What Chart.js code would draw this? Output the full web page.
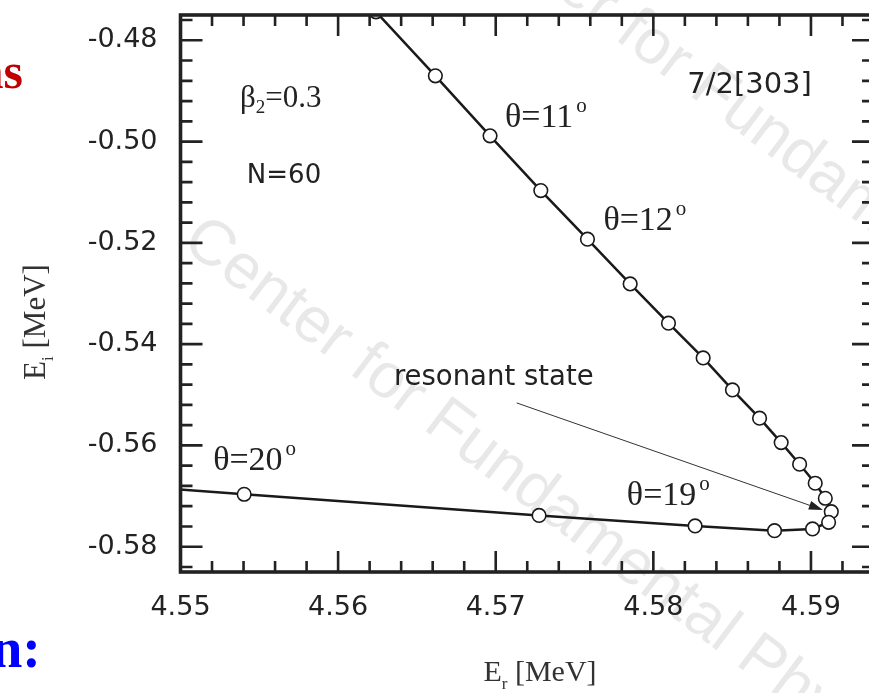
<!DOCTYPE html>
<html>
<head>
<meta charset="utf-8">
<script src="https://cdn.jsdelivr.net/npm/chart.js@4.4.1/dist/chart.umd.min.js"></script>
<style>
  html, body { margin: 0; padding: 0; background: #fff; overflow: hidden; }
  /* the box's right edge runs a few pixels past the visible page */
  #wrap { position: relative; width: 885px; height: 693px; }
</style>
</head>
<body>
<div id="wrap"><canvas id="trajChart"></canvas></div>
<script>
// trajectory of the 7/2[303] state in the complex energy plane as theta grows
const erValues = [4.5624, 4.56617, 4.56964, 4.57286, 4.57582, 4.57853, 4.58096, 4.58316,
  4.58502, 4.58674, 4.58811, 4.58928, 4.59027, 4.59091, 4.59129, 4.59112,
  4.59010, 4.58769, 4.58265, 4.57275, 4.55404, 4.545];
const eiValues = [-0.47437, -0.48701, -0.49887, -0.50967, -0.51927, -0.52810, -0.53587, -0.54272,
  -0.54904, -0.55463, -0.55945, -0.56372, -0.56747, -0.57044, -0.57308, -0.57518,
  -0.57650, -0.57684, -0.57591, -0.57383, -0.56965, -0.56752];

const xTicks = [4.55, 4.56, 4.57, 4.58, 4.59];
const yTicks = [-0.58, -0.56, -0.54, -0.52, -0.50, -0.48];
const xMinorStep = 0.002;
const yMinorStep = 0.004;

const INK = '#222';
const SERIF = '"Liberation Serif", "Times New Roman", serif';
const SANS = '"DejaVu Sans", sans-serif';

// text pieces drawn one after another (for sub/superscripts)
function drawParts(ctx, x, y, parts, align) {
  let total = 0;
  parts.forEach(p => { ctx.font = p.font; total += ctx.measureText(p.text).width + (p.gap || 0); });
  let cx = align === 'center' ? x - total / 2 : x;
  ctx.textAlign = 'left';
  ctx.textBaseline = 'alphabetic';
  parts.forEach(p => {
    ctx.font = p.font;
    cx += p.gap || 0;
    ctx.fillText(p.text, cx, y + (p.dy || 0));
    cx += ctx.measureText(p.text).width;
  });
}

function thetaLabel(deg) {
  return [
    { text: 'θ=' + deg, font: '34px ' + SERIF },
    { text: 'o', font: '21px ' + SERIF, dy: -15, gap: 3 }
  ];
}

// labels placed in data coordinates
const notes = [
  { x: 4.55377, y: -0.49314, color: INK, parts: [
    { text: 'β', font: '31px ' + SERIF },
    { text: '2', font: '19px ' + SERIF, dy: 6 },
    { text: '=0.3', font: '31px ' + SERIF }] },
  { x: 4.55421, y: -0.50815, color: INK, parts: [{ text: 'N=60', font: '26px ' + SANS }] },
  { x: 4.58215, y: -0.49037, color: INK, parts: [{ text: '7/2[303]', font: '29px ' + SANS }] },
  { x: 4.57059, y: -0.49709, color: INK, parts: thetaLabel(11) },
  { x: 4.57683, y: -0.51744, color: INK, parts: thetaLabel(12) },
  { x: 4.55207, y: -0.56485, color: INK, parts: thetaLabel(20) },
  { x: 4.57832, y: -0.57176, color: INK, parts: thetaLabel(19) },
  { x: 4.56354, y: -0.54806, color: INK, parts: [{ text: 'resonant state', font: '27.5px ' + SANS }] }
];
const arrowFrom = { x: 4.57133, y: -0.55161 };
const arrowTo = { x: 4.59076, y: -0.57275 };

const watermark = {
  id: 'watermark',
  beforeDraw(chart) {
    const ctx = chart.ctx;
    ctx.save();
    ctx.fillStyle = 'rgba(0,0,0,0.09)';
    ctx.font = '64px "Liberation Sans", Arial, sans-serif';
    ctx.textBaseline = 'alphabetic';
    [[180, 246], [446, -88]].forEach(([px, py]) => {
      ctx.save();
      ctx.translate(px, py);
      ctx.rotate(37 * Math.PI / 180);
      ctx.fillText('Center for Fundamental Physics', 0, 0);
      ctx.restore();
    });
    ctx.restore();
  }
};

const annotations = {
  id: 'annotations',
  afterDatasetsDraw(chart) {
    const { ctx, scales: { x, y } } = chart;
    ctx.save();
    notes.forEach(n => {
      ctx.fillStyle = n.color;
      drawParts(ctx, x.getPixelForValue(n.x), y.getPixelForValue(n.y), n.parts);
    });

    // arrow pointing at the resonance
    const x1 = x.getPixelForValue(arrowFrom.x), y1 = y.getPixelForValue(arrowFrom.y);
    const x2 = x.getPixelForValue(arrowTo.x), y2 = y.getPixelForValue(arrowTo.y);
    const ang = Math.atan2(y2 - y1, x2 - x1);
    ctx.strokeStyle = '#333';
    ctx.lineWidth = 1;
    ctx.beginPath();
    ctx.moveTo(x1, y1);
    ctx.lineTo(x2 - 10 * Math.cos(ang), y2 - 10 * Math.sin(ang));
    ctx.stroke();
    ctx.fillStyle = '#222';
    ctx.beginPath();
    ctx.moveTo(x2, y2);
    ctx.lineTo(x2 - 14 * Math.cos(ang) + 4.5 * Math.sin(ang), y2 - 14 * Math.sin(ang) - 4.5 * Math.cos(ang));
    ctx.lineTo(x2 - 14 * Math.cos(ang) - 4.5 * Math.sin(ang), y2 - 14 * Math.sin(ang) + 4.5 * Math.cos(ang));
    ctx.closePath();
    ctx.fill();
    ctx.restore();
  }
};

// box frame with inward ticks on all four sides, plus axis titles
const frameTicks = {
  id: 'frameTicks',
  afterDraw(chart) {
    const { ctx, chartArea: a, scales: { x, y } } = chart;
    ctx.save();
    ctx.strokeStyle = INK;
    ctx.lineWidth = 2.6;
    ctx.beginPath();
    const kx0 = Math.ceil(x.min / xMinorStep - 1e-6);
    for (let k = kx0; k * xMinorStep <= x.max + 1e-9; k++) {
      const v = k * xMinorStep;
      const major = Math.abs(v / 0.01 - Math.round(v / 0.01)) < 1e-6;
      const len = major ? 21 : 11;
      const px = x.getPixelForValue(v);
      ctx.moveTo(px, a.bottom); ctx.lineTo(px, a.bottom - len);
      ctx.moveTo(px, a.top); ctx.lineTo(px, a.top + len);
    }
    const ky0 = Math.ceil(y.min / yMinorStep - 1e-6);
    for (let k = ky0; k * yMinorStep <= y.max + 1e-9; k++) {
      const v = k * yMinorStep;
      const major = Math.abs(v / 0.02 - Math.round(v / 0.02)) < 1e-6;
      const len = major ? 22 : 12;
      const py = y.getPixelForValue(v);
      ctx.moveTo(a.left, py); ctx.lineTo(a.left + len, py);
      ctx.moveTo(a.right, py); ctx.lineTo(a.right - len, py);
    }
    ctx.stroke();
    ctx.lineWidth = 3.6;
    ctx.strokeRect(a.left, a.top, a.right - a.left, a.bottom - a.top);

    // axis titles
    ctx.fillStyle = '#333';
    drawParts(ctx, 540, 681, [
      { text: 'E', font: '30px ' + SERIF },
      { text: 'r', font: '17px ' + SERIF, dy: 8 },
      { text: ' [MeV]', font: '30px ' + SERIF }], 'center');
    ctx.save();
    ctx.translate(45, 322);
    ctx.rotate(-Math.PI / 2);
    drawParts(ctx, 0, 0, [
      { text: 'E', font: '31px ' + SERIF },
      { text: 'i', font: '17px ' + SERIF, dy: 8 },
      { text: ' [MeV]', font: '31px ' + SERIF }], 'center');
    ctx.restore();

    // bits of the surrounding slide text
    ctx.textAlign = 'right';
    ctx.fillStyle = '#c00000';
    ctx.font = 'bold 50px ' + SERIF;
    ctx.fillText('ns', 23, 88);
    ctx.fillStyle = '#0000ff';
    ctx.font = 'bold 56px ' + SERIF;
    ctx.fillText('n:', 41, 667);
    ctx.restore();
  }
};

const tickFont = { family: 'DejaVu Sans', size: 27 };

// keep the plot box where it belongs: no label overhang padding
function noPadding(s) {
  s.paddingTop = 0; s.paddingBottom = 0; s.paddingLeft = 0; s.paddingRight = 0;
}

new Chart(document.getElementById('trajChart'), {
  type: 'scatter',
  data: {
    datasets: [{
      data: erValues.map((er, i) => ({ x: er, y: eiValues[i] })),
      showLine: true,
      tension: 0,
      borderColor: '#1a1a1a',
      borderWidth: 2.5,
      pointRadius: 6.8,
      pointHoverRadius: 6.8,
      pointBackgroundColor: '#fff',
      pointBorderColor: '#1a1a1a',
      pointBorderWidth: 1.6
    }]
  },
  options: {
    responsive: true,
    maintainAspectRatio: false,
    animation: false,
    layout: { padding: { top: 15, right: 11, bottom: 0, left: 0 } },
    plugins: { legend: { display: false }, tooltip: { enabled: false } },
    scales: {
      x: {
        type: 'linear',
        min: 4.55,
        max: 4.594,
        afterBuildTicks: s => { s.ticks = xTicks.map(v => ({ value: v })); },
        afterFit: s => { s.height = 121; noPadding(s); },
        grid: { display: false, drawTicks: false },
        border: { display: false },
        ticks: {
          font: tickFont, color: INK, padding: 20, maxRotation: 0, autoSkip: false,
          callback: v => v.toFixed(2)
        }
      },
      y: {
        type: 'linear',
        min: -0.585,
        max: -0.475,
        afterBuildTicks: s => { s.ticks = yTicks.map(v => ({ value: v })); },
        afterFit: s => { s.width = 180.5; noPadding(s); },
        grid: { display: false, drawTicks: false },
        border: { display: false },
        ticks: {
          font: tickFont, color: INK, padding: 23, autoSkip: false,
          callback: v => v.toFixed(2)
        }
      }
    }
  },
  plugins: [watermark, annotations, frameTicks]
});
</script>
</body>
</html>
